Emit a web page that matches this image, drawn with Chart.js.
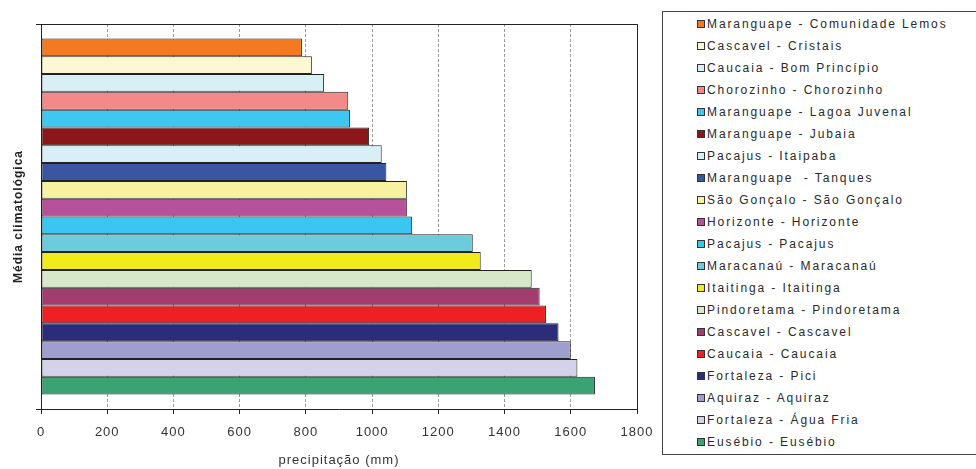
<!DOCTYPE html>
<html>
<head>
<meta charset="utf-8">
<script src="https://cdn.jsdelivr.net/npm/chart.js@4.4.1/dist/chart.umd.min.js"></script>
<style>
  html, body { margin: 0; padding: 0; background: #fff; overflow: hidden; }
  #wrap { position: absolute; left: 0; top: 0; width: 660px; height: 469px; }
  #legend {
    position: absolute; left: 662px; top: 11px; width: 340px; height: 442px;
    border: 1px solid #444;
    font-family: "Liberation Sans", Arial, sans-serif; font-size: 12px;
    letter-spacing: 1.9px; color: #2a2a2a;
  }
  .item { position: absolute; left: 34px; height: 22px; display: flex; align-items: center; white-space: pre; }
  .box { width: 6px; height: 6px; border: 1px solid #333; margin-right: 2px; }
</style>
</head>
<body>
<div id="wrap"><canvas id="chuvaChart" width="660" height="469"></canvas></div>
<div id="legend"></div>
<script>
// postos pluviométricos, na ordem de cima para baixo
const stations = [
    'Maranguape - Comunidade Lemos',
    'Cascavel - Cristais',
    'Caucaia - Bom Princípio',
    'Chorozinho - Chorozinho',
    'Maranguape - Lagoa Juvenal',
    'Maranguape - Jubaia',
    'Pacajus - Itaipaba',
    'Maranguape  - Tanques',
    'São Gonçalo - São Gonçalo',
    'Horizonte - Horizonte',
    'Pacajus - Pacajus',
    'Maracanaú - Maracanaú',
    'Itaitinga - Itaitinga',
    'Pindoretama - Pindoretama',
    'Cascavel - Cascavel',
    'Caucaia - Caucaia',
    'Fortaleza - Pici',
    'Aquiraz - Aquiraz',
    'Fortaleza - Água Fria',
    'Eusébio - Eusébio'
];
const rainfall = [788, 818, 855, 928, 933, 991, 1029, 1043, 1105, 1105,
                  1121, 1304, 1328, 1482, 1506, 1525, 1563, 1600, 1620, 1673];
const barColors = [
    '#F47920', '#FCF8D2', '#D8EFF6', '#F28A8A', '#3CC8F0',
    '#8B171A', '#D8EFF6', '#3A56A3', '#F6F2A0', '#B7519A',
    '#3AC6F0', '#6DCBDC', '#F2EB1C', '#D6E8C8', '#A23D6E',
    '#EE2024', '#2B2D7B', '#A09ECE', '#D3D2E8', '#3BA373'
];
const categories = ['Média climatológica'];
const xMin = 0, xMax = 1800, xStep = 200;

// legenda em HTML, com a caixa à direita
const legendEl = document.getElementById('legend');
stations.forEach((name, i) => {
    const row = document.createElement('div');
    row.className = 'item';
    row.style.top = (1 + i * 22) + 'px';
    const box = document.createElement('span');
    box.className = 'box';
    box.style.background = barColors[i];
    const txt = document.createElement('span');
    txt.textContent = name;
    row.appendChild(box);
    row.appendChild(txt);
    legendEl.appendChild(row);
});

// moldura superior e direita da área do gráfico
const framePlugin = {
    id: 'frame',
    beforeDraw(chart) {
        chart.ctx.letterSpacing = '1px';
    },
    afterDatasetsDraw(chart) {
        const { ctx, chartArea: a } = chart;
        ctx.save();
        ctx.strokeStyle = '#222';
        ctx.lineWidth = 1;
        ctx.beginPath();
        ctx.moveTo(a.left, Math.round(a.top) + 0.5);
        ctx.lineTo(Math.round(a.right) + 0.5, Math.round(a.top) + 0.5);
        ctx.lineTo(Math.round(a.right) + 0.5, a.bottom);
        ctx.stroke();
        ctx.restore();
    }
};

const datasets = stations.map((name, i) => ({
    label: name,
    data: [rainfall[i]],
    backgroundColor: barColors[i],
    borderColor: '#222',
    borderWidth: 1,
    borderSkipped: false,
    categoryPercentage: 0.925,
    barPercentage: 1
}));

const ctx = document.getElementById('chuvaChart').getContext('2d');
new Chart(ctx, {
    type: 'bar',
    data: { labels: categories, datasets: datasets },
    options: {
        indexAxis: 'y',
        responsive: false,
        animation: false,
        layout: { padding: { top: 24, right: 23, left: 0, bottom: 0 } },
        plugins: {
            legend: { display: false },
            tooltip: { enabled: false }
        },
        scales: {
            x: {
                type: 'linear',
                min: xMin,
                max: xMax,
                afterFit: s => {
                    s.height = 60;
                    s.paddingRight = 16;
                    s.paddingLeft = 0;
                },
                ticks: {
                    stepSize: xStep,
                    padding: 11,
                    color: '#333',
                    callback: v => String(v),
                    font: { family: '"Liberation Sans", Arial, sans-serif', size: 13 }
                },
                grid: {
                    color: '#999',
                    tickColor: '#222',
                    tickLength: 5,
                    tickBorderDash: []
                },
                border: { display: true, color: '#222', width: 1, dash: [3, 2] },
                title: {
                    display: true,
                    text: 'precipitação (mm)',
                    color: '#333',
                    padding: { top: 0, bottom: 1 },
                    font: { family: '"Liberation Sans", Arial, sans-serif', size: 13 }
                }
            },
            y: {
                afterFit: s => { s.width = 41; },
                ticks: { display: false },
                grid: {
                    drawOnChartArea: false,
                    drawTicks: true,
                    tickLength: 5,
                    color: '#222'
                },
                border: { display: true, color: '#222', width: 1 },
                title: {
                    display: true,
                    text: 'Média climatológica',
                    color: '#222',
                    padding: { top: 11, bottom: 0 },
                    font: { family: '"Liberation Sans", Arial, sans-serif', size: 12, weight: 'bold' }
                }
            }
        }
    },
    plugins: [framePlugin]
});
</script>
</body>
</html>
